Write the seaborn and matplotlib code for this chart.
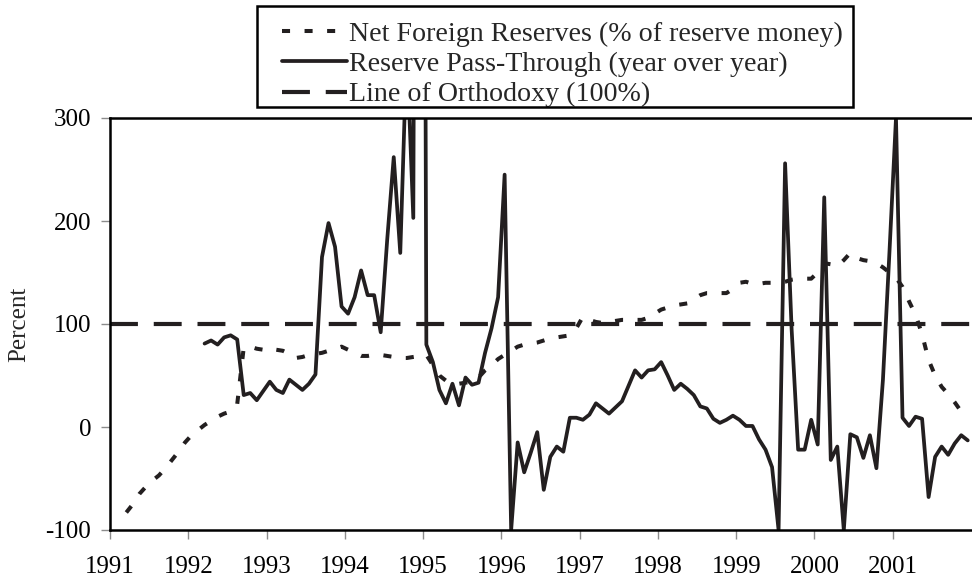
import numpy as np
import pandas as pd
import seaborn as sns
import matplotlib.pyplot as plt
from matplotlib.patches import Rectangle

# monthly observations; *_start is the month index of the first value (0 = Jan 1991)
reserves_start = 2
reserves = [
    -83, -75, -65, -58, -52, -47, -40, -32, -24, -15,                # 1991
    -8, -3, 2, 6, 10, 13, 15, 22, 77, 78, 76, 75,                    # 1992
    73, 75, 74, 71, 67, 68, 70, 71, 72, 74, 76, 78,                  # 1993
    75, 72, 69, 69, 70, 70, 69, 68, 67, 67, 68, 69,                  # 1994
    70, 60, 50, 45, 42, 42, 43, 44, 48, 55, 60, 66,                  # 1995
    70, 74, 78, 80, 81, 82, 84, 86, 87, 88, 89, 96,                  # 1996
    107, 104, 102, 101, 102, 103, 104, 104, 104, 104, 106, 110,      # 1997
    114, 116, 118, 119, 120, 124, 128, 130, 130, 130, 130, 134,      # 1998
    140, 141, 139, 139, 140, 140, 140, 141, 143, 144, 144, 144,      # 1999
    150, 159, 158, 156, 162, 169, 164, 162, 161, 159, 155, 150,      # 2000
    145, 136, 122, 109, 90, 65, 50, 39, 32, 24, 15, 8,               # 2001
]

passthrough_start = 14
passthrough = [
    81, 84, 80, 87, 89, 85, 31, 33, 26, 35,                          # 1992
    44, 36, 33, 46, 41, 36, 42, 51, 165, 198, 175, 117,              # 1993
    110, 126, 152, 128, 128, 92, 182, 262, 169, 370, 203, 2000,      # 1994
    80, 63, 36, 23, 42, 21, 48, 41, 43, 72, 96, 126,                 # 1995
    245, -100, -15, -44, -25, -5, -61, -29, -19, -24, 9, 9,          # 1996
    7, 12, 23, 18, 13, 19, 25, 40, 55, 48, 55, 56,                   # 1997
    63, 50, 36, 42, 37, 31, 20, 18, 8, 4, 7, 11,                     # 1998
    7, 1, 1, -12, -22, -39, -100, 256, 95, -22, -22, 7,              # 1999
    -17, 223, -32, -19, -100, -7, -10, -30, -8, -40, 46, 170,        # 2000
    300, 9, 1, 10, 8, -68, -29, -19, -27, -16, -8, -13,              # 2001
]

orthodoxy = 100
year_ticks = list(range(1991, 2002))
y_ticks = [-100, 0, 100, 200, 300]
series_labels = [
    "Net Foreign Reserves (% of reserve money)",
    "Reserve Pass-Through (year over year)",
    "Line of Orthodoxy (100%)",
]


def monthly_frame(start, values):
    months = start + np.arange(len(values))
    return pd.DataFrame({"year": 1991 + (months + 0.5) / 12, "value": values})


sns.set_theme(style="white")
plt.rcParams['font.family'] = ['Liberation Serif', 'DejaVu Serif']
plt.rcParams['axes.unicode_minus'] = False

ink = "#231f20"
fig = plt.figure(figsize=(9.72, 5.83), dpi=100)
ax = fig.add_axes([110 / 972, 53 / 583, 861 / 972, 412 / 583])

sns.lineplot(data=monthly_frame(reserves_start, reserves), x="year", y="value", ax=ax,
             color=ink, linewidth=2.9, linestyle=(0, (2, 3.6)))
sns.lineplot(data=monthly_frame(passthrough_start, passthrough), x="year", y="value", ax=ax,
             color=ink, linewidth=2.7)
ax.axhline(orthodoxy, color=ink, linewidth=3, linestyle=(0, (6.7, 3.8)))

ax.set_xlim(1991, 2002)
ax.set_ylim(-100, 300)
ax.set_xticks(year_ticks)
ax.set_xticklabels([str(y) for y in year_ticks])
ax.set_yticks(y_ticks)
ax.set_yticklabels([str(v) for v in y_ticks])
ax.set_xlabel("")
ax.set_ylabel("Percent", fontsize=18)
ax.yaxis.set_label_coords(-0.093, 0.5)

ax.tick_params(axis="both", direction="out", length=6.5, width=1, color="#8c8c8c",
               labelsize=18, labelcolor="black", bottom=True, left=True)
ax.tick_params(axis="x", pad=12)
ax.tick_params(axis="y", pad=7)
for side in ["top", "left", "bottom"]:
    ax.spines[side].set_color("black")
    ax.spines[side].set_linewidth(1.8)
ax.spines["right"].set_visible(False)

# legend box drawn separately so its margins can match the original
leg = ax.legend(handles=ax.get_lines()[:3], labels=series_labels, loc="upper left",
                bbox_to_anchor=(282 / 972, 1 - 21 / 583), bbox_transform=fig.transFigure,
                fontsize=20.2, frameon=False, borderpad=0, labelspacing=0.17,
                handlelength=2.3, handletextpad=0.1, borderaxespad=0)
fig.patches.append(Rectangle((257 / 972, 1 - 107 / 583), 596 / 972, 101 / 583,
                             transform=fig.transFigure, fill=False,
                             edgecolor="black", linewidth=1.8))

fig.savefig("out.png", dpi=100)
